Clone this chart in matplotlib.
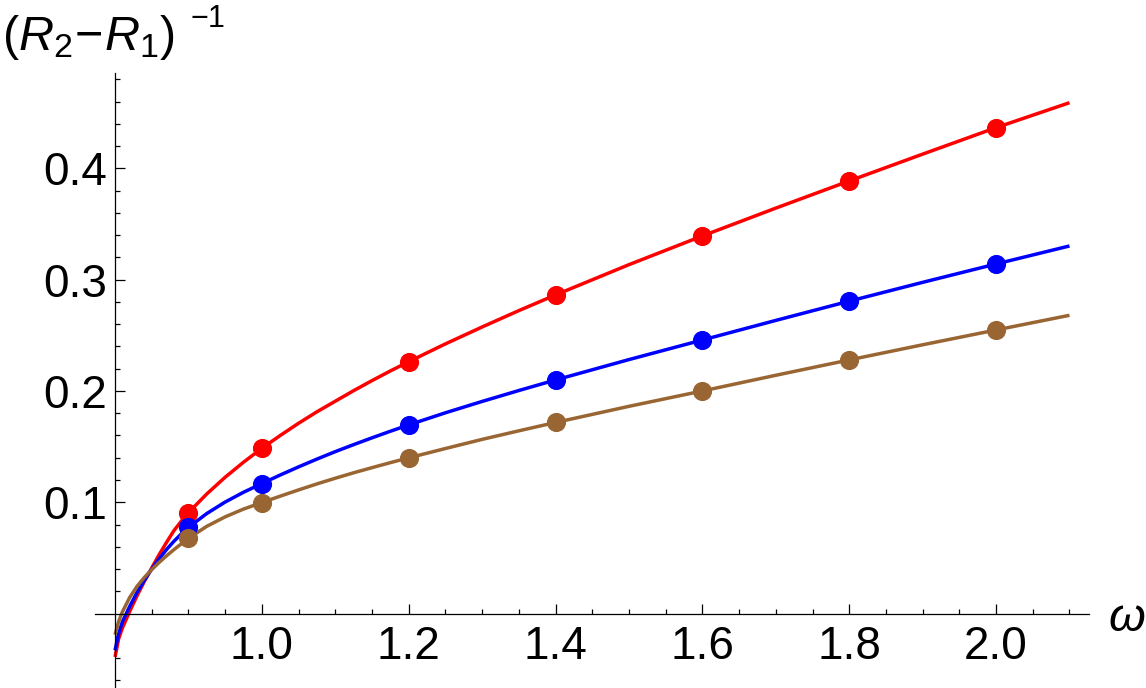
import numpy as np
import matplotlib
matplotlib.use("Agg")
import matplotlib.pyplot as plt

plt.rcParams['font.family'] = ['Liberation Sans', 'DejaVu Sans']
plt.rcParams['mathtext.fontset'] = 'custom'
plt.rcParams['mathtext.rm'] = 'Liberation Sans'
plt.rcParams['mathtext.it'] = 'Liberation Sans:italic'

# ---- data points (omega, (R2-R1)^-1) ----
omega_pts = [0.9, 1.0, 1.2, 1.4, 1.6, 1.8, 2.0]
red_pts = [0.0907, 0.1485, 0.2263, 0.2863, 0.3393, 0.3887, 0.4366]
blue_pts = [0.0775, 0.1168, 0.1695, 0.2099, 0.2458, 0.2807, 0.3141]
brown_pts = [0.0676, 0.0997, 0.1398, 0.1717, 0.2000, 0.2279, 0.2548]

# ---- fitted curves ----
omega_curve = [0.800, 0.805, 0.810, 0.820, 0.830, 0.840, 0.850, 0.860, 0.870,
               0.880, 0.890, 0.900, 0.925, 0.950, 0.975, 1.000, 1.025, 1.050,
               1.075, 1.100, 1.125, 1.150, 1.175, 1.200, 1.250, 1.300, 1.350,
               1.400, 1.500, 1.600, 1.700, 1.800, 1.900, 2.000, 2.100]
red_curve = [-0.0390, -0.0225, -0.0130, 0.0020, 0.0160, 0.0290, 0.0410, 0.0528,
             0.0638, 0.0743, 0.0828, 0.0907, 0.1075, 0.1225, 0.1360, 0.1485,
             0.1600, 0.1710, 0.1813, 0.1908, 0.2003, 0.2093, 0.2180, 0.2263,
             0.2423, 0.2575, 0.2722, 0.2863, 0.3135, 0.3393, 0.3643, 0.3887,
             0.4128, 0.4366, 0.4590]
blue_curve = [-0.0330, -0.0180, -0.0075, 0.0065, 0.0190, 0.0300, 0.0400, 0.0492,
              0.0574, 0.0648, 0.0714, 0.0774, 0.0899, 0.1002, 0.1090, 0.1168,
              0.1245, 0.1318, 0.1388, 0.1455, 0.1518, 0.1579, 0.1638, 0.1695,
              0.1804, 0.1906, 0.2004, 0.2099, 0.2282, 0.2458, 0.2634, 0.2807,
              0.2976, 0.3141, 0.3303]
brown_curve = [-0.0190, -0.0070, 0.0015, 0.0145, 0.0245, 0.0325, 0.0395, 0.0459,
               0.0518, 0.0573, 0.0625, 0.0676, 0.0784, 0.0869, 0.0939, 0.0997,
               0.1055, 0.1111, 0.1165, 0.1216, 0.1265, 0.1311, 0.1356, 0.1399,
               0.1483, 0.1565, 0.1642, 0.1717, 0.1862, 0.2000, 0.2141, 0.2279,
               0.2415, 0.2548, 0.2680]

x_major = [1.0, 1.2, 1.4, 1.6, 1.8, 2.0]
x_major_labels = ['1.0', '1.2', '1.4', '1.6', '1.8', '2.0']
y_major = [0.1, 0.2, 0.3, 0.4]
y_major_labels = ['0.1', '0.2', '0.3', '0.4']

RED = (1, 0, 0)
BLUE = (0, 0, 1)
BROWN = (0.6, 0.4, 0.2)

W, H = 1146, 688
fig = plt.figure(figsize=(W / 100, H / 100), dpi=100)
x0, x1 = 95.2, 1089.3
ytop, ybot = 73.0, 687.8
ax = fig.add_axes([x0 / W, 1 - ybot / H, (x1 - x0) / W, (ybot - ytop) / H])
ax.set_xlim(0.773, 2.127)
ax.set_ylim(-0.0667, 0.4857)

for yc, col in [(red_curve, RED), (blue_curve, BLUE), (brown_curve, BROWN)]:
    ax.plot(omega_curve, yc, color=col, lw=2.5, solid_capstyle='butt',
            solid_joinstyle='round', zorder=2, clip_on=False)
for yp, col in [(red_pts, RED), (blue_pts, BLUE), (brown_pts, BROWN)]:
    ax.plot(omega_pts, yp, 'o', color=col, ms=13.8, mec='none', zorder=3)

for s in ['top', 'right']:
    ax.spines[s].set_visible(False)
ax.spines['left'].set_position(('data', 0.8))
ax.spines['bottom'].set_position(('data', 0.0))
for s in ['left', 'bottom']:
    ax.spines[s].set_linewidth(0.9)

ax.set_xticks(x_major)
ax.set_xticklabels(x_major_labels)
xmin = [v for v in np.round(np.arange(0.85, 2.1001, 0.05), 2) if not np.any(np.isclose(v, x_major))]
ax.set_xticks(xmin, minor=True)
ax.set_yticks(y_major)
ax.set_yticklabels(y_major_labels)
ymin = [v for v in np.round(np.arange(-0.06, 0.4801, 0.02), 2)
        if not np.any(np.isclose(v, y_major)) and not np.isclose(v, 0)]
ax.set_yticks(ymin, minor=True)

ax.tick_params(which='both', direction='in', width=0.9, labelsize=33, colors='black')
ax.tick_params(which='major', length=7.5)
ax.tick_params(which='minor', length=3.8)
ax.tick_params(axis='x', which='major', pad=8)
ax.tick_params(axis='y', which='major', pad=6)

# axis labels
fig.text(2 / W, 1 - 50 / H, r'$(R_2\!-\!R_1)$', fontsize=35, ha='left', va='baseline')
fig.text(190 / W, 1 - 27 / H, '\u22121', fontsize=22, ha='left', va='baseline')
fig.text(1127 / W, 1 - 619 / H, '\u03c9', fontsize=34, style='italic', ha='center', va='center')

fig.savefig('out.png', dpi=100)
